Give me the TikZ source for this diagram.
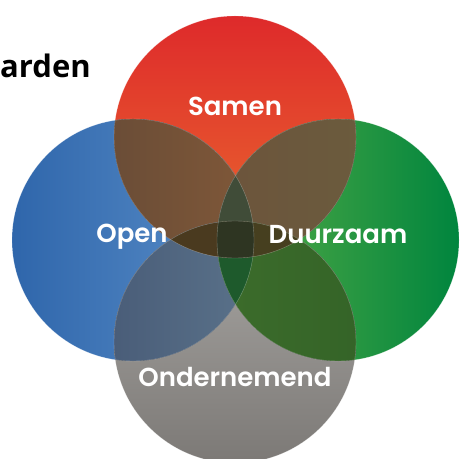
\documentclass[tikz,border=0pt]{standalone}
\usepackage{fontspec}
\newfontfamily\waardefont{Poppins}[BoldFont={Poppins SemiBold}]
\newfontfamily\kopfont{Open Sans}
\usetikzlibrary{positioning}

\definecolor{samenboven}{HTML}{DE2A2B}
\definecolor{samenonder}{HTML}{EA6A2F}
\definecolor{openlinks}{HTML}{2F66AB}
\definecolor{openrechts}{HTML}{5C90CA}
\definecolor{duurlinks}{HTML}{5AAD46}
\definecolor{duurrechts}{HTML}{00853E}
\definecolor{ondboven}{HTML}{AAA8A5}
\definecolor{ondonder}{HTML}{7C7976}

\begin{document}
\begin{tikzpicture}[x=1pt, y=1pt,
  bol/.style = {circle, minimum size=242pt, inner sep=0pt},
  rand/.style = {draw=white, draw opacity=0.35, line width=0.4pt},
  waarde/.style = {text=white, font=\waardefont\bfseries\fontsize{26}{26}\selectfont}]
\useasboundingbox (0,0) rectangle (463,458);

% de vier cirkels
\node[bol, top color=samenboven, bottom color=samenonder] (S) at (235,321) {};
\node[bol, left color=openlinks, right color=openrechts] (O) at (133,218) {};
\node[bol, left color=duurlinks, right color=duurrechts] (D) at (338,218) {};
\node[bol, top color=ondboven, bottom color=ondonder] (N) at (235,116) {};

% overlap van twee cirkels
\begin{scope}
\clip (S.center) circle (121);
\fill[left color={rgb,255:red,91;green,69;blue,54}, right color={rgb,255:red,128;green,88;blue,56}] (O.center) circle (121);
\fill[left color={rgb,255:red,108;green,84;blue,60}, right color={rgb,255:red,106;green,96;blue,62}] (D.center) circle (121);
\end{scope}
\begin{scope}
\clip (N.center) circle (121);
\fill[left color={rgb,255:red,62;green,78;blue,108}, right color={rgb,255:red,90;green,114;blue,138}] (O.center) circle (121);
\fill[left color={rgb,255:red,60;green,108;blue,43}, right color={rgb,255:red,47;green,94;blue,37}] (D.center) circle (121);
\end{scope}

% overlap van drie cirkels
\begin{scope}
\clip (O.center) circle (121);
\clip (D.center) circle (121);
\fill[color={rgb,255:red,64;green,76;blue,56}] (S.center) circle (121);
\fill[color={rgb,255:red,30;green,90;blue,44}] (N.center) circle (121);
\end{scope}
\begin{scope}
\clip (S.center) circle (121);
\clip (N.center) circle (121);
\fill[color={rgb,255:red,74;green,58;blue,31}] (O.center) circle (121);
\fill[color={rgb,255:red,70;green,63;blue,31}] (D.center) circle (121);
% midden
\clip (O.center) circle (121);
\fill[color={rgb,255:red,46;green,53;blue,34}] (D.center) circle (121);
\end{scope}

% randen
\foreach \c in {S,O,D,N}
  \draw[rand] (\c.center) circle (121);

% teksten
\node[waarde] (samen) at (235,352) {Samen};
\node[waarde] (open) at (132,221) {Open};
\node[waarde] (duurzaam) at (338,223) {Duurzaam};
\node[waarde] (ondernemend) at (235,81) {Ondernemend};
\node[anchor=base west, inner sep=0pt, font=\kopfont\bfseries\fontsize{31}{31}\selectfont] (kop) at (0,380) {arden};
\end{tikzpicture}
\end{document}
